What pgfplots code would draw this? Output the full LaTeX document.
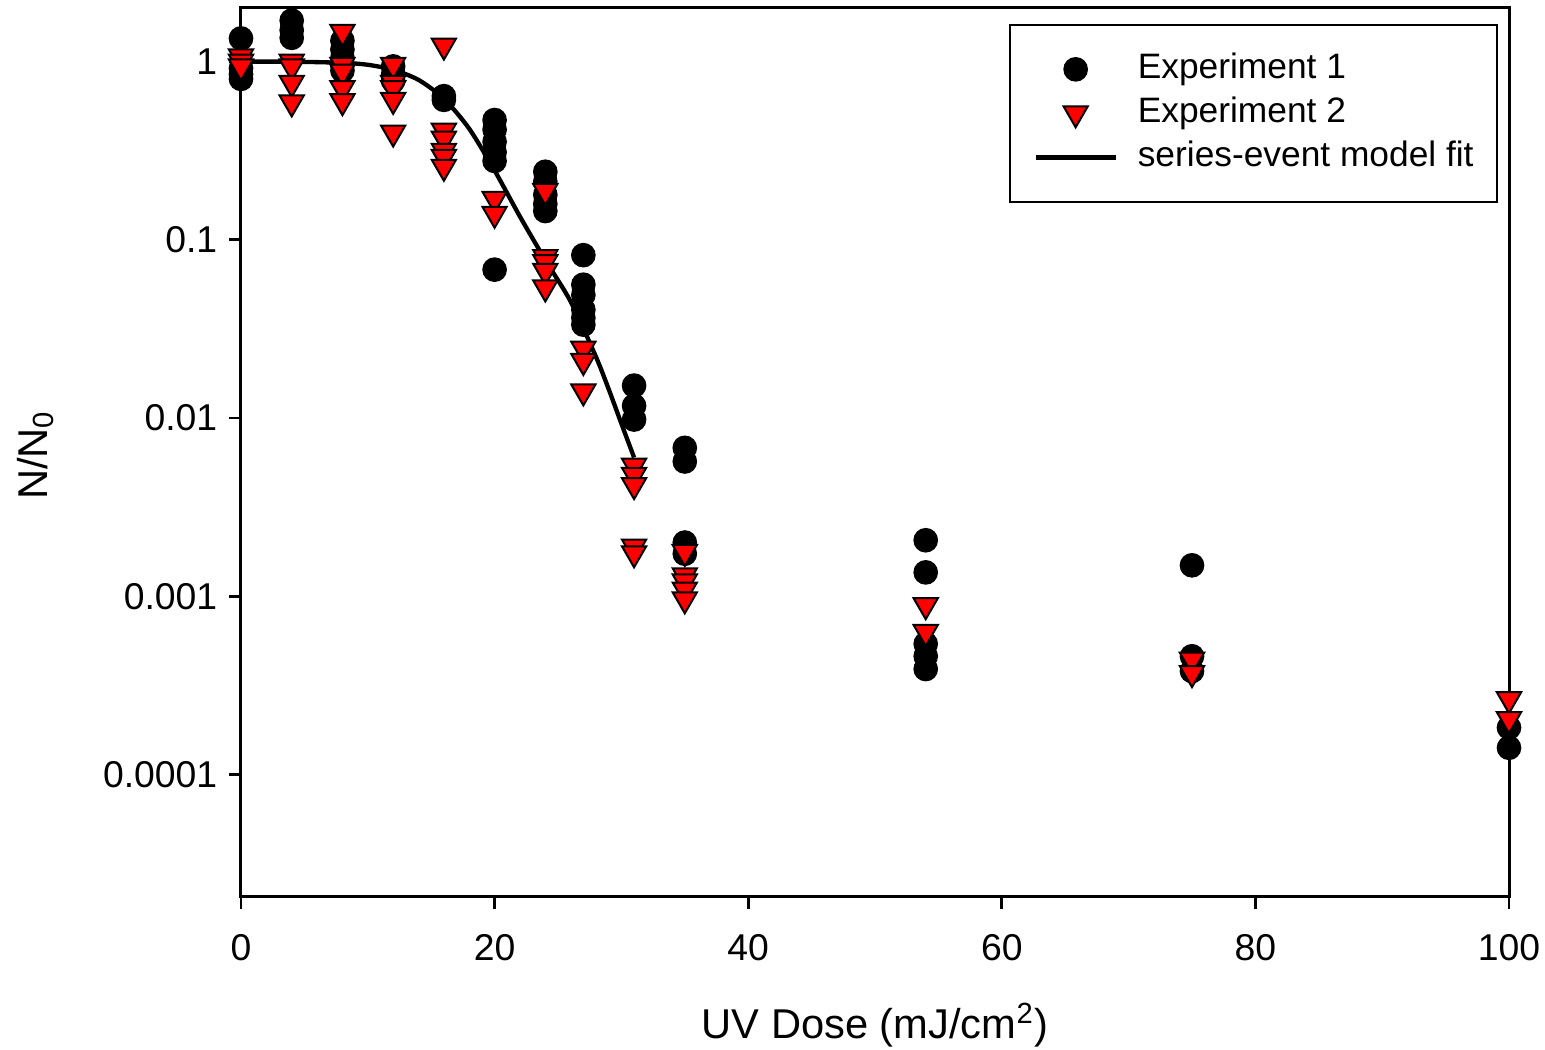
\documentclass[border=0pt]{standalone}
\usepackage{fontspec}
\setmainfont{Liberation Sans}
\usepackage{pgfplots}
\pgfplotsset{compat=1.18}
\usetikzlibrary{calc}
\pgfplotsset{
  markleg/.style={legend image code/.code={\draw[mark repeat=2,mark phase=2,##1] plot coordinates {(0pt,0pt) (12pt,0pt) (24pt,0pt)};}},
  lineleg/.style={legend image code/.code={\draw[##1] (0pt,0pt) -- (24pt,0pt);}},
}
\begin{document}
\begin{tikzpicture}[x=1pt,y=1pt]
\begin{axis}[
  name=ax,
  scale only axis,
  width=380.4pt, height=266.7pt,
  xmin=0, xmax=100,
  ymode=log, ymin=2.05e-5, ymax=2.0,
  xtick={0,20,40,60,80,100},
  ytick={1,0.1,0.01,0.001,0.0001},
  yticklabels={1,0.1,0.01,0.001,0.0001},
  minor ytick={},
  yminorticks=false,
  tick pos=left,
  tick align=outside,
  major tick length=3.6pt,
  tick style={black, line width=0.8pt},
  axis line style={line width=0.9pt},
  /pgf/number format/assume math mode=true,
  ticklabel style={font=\fontsize{11.2}{13}\selectfont},
  xticklabel style={yshift=-4.2pt},
  yticklabel style={xshift=0pt},
  xlabel={UV Dose (mJ/cm\textsuperscript{2})},
  ylabel={N/N\textsubscript{0}},
  label style={font=\fontsize{12.5}{14}\selectfont},
  xlabel style={at={(axis description cs:0.5,-0.144)}, anchor=center},
  ylabel style={at={(axis description cs:-0.162,0.497)}, anchor=center},
  clip=false,
  legend cell align=left,
  legend style={at={(rel axis cs:0.9913,0.982)}, anchor=north east,
    draw=black, line width=0.6pt,
    inner xsep=7pt, inner ysep=8.5pt,
    font=\fontsize{10.6}{12}\selectfont,
    row sep=3.6pt,
    nodes={inner sep=0pt, text height=7.6pt, text depth=2pt},
    /tikz/every odd column/.append style={column sep=6pt}},
]
\addplot[only marks, mark=*, mark size=3.5pt, mark options={fill=black, draw=black, line width=0.4pt}, markleg]
coordinates {
(0,1.35) (0,0.92) (0,0.85) (0,0.80)
(4,1.70) (4,1.50) (4,1.36)
(8,1.31) (8,1.17) (8,1.05) (8,0.95) (8,0.89)
(12,0.94) (12,0.85) (12,0.78)
(16,0.64) (16,0.61)
(20,0.47) (20,0.415) (20,0.355) (20,0.31) (20,0.277) (20,0.068)
(24,0.241) (24,0.212) (24,0.179) (24,0.159) (24,0.145)
(27,0.082) (27,0.056) (27,0.049) (27,0.0405) (27,0.0365) (27,0.0334)
(31,0.0152) (31,0.0117) (31,0.0098)
(35,0.0068) (35,0.0057) (35,0.0020) (35,0.00173)
(54,0.00206) (54,0.00136) (54,0.00054) (54,0.00046) (54,0.00039)
(75,0.00149) (75,0.00046) (75,0.00038)
(100,0.000183) (100,0.000141)
};
\addlegendentry{Experiment 1}
\addplot[only marks, mark=triangle*, mark size=4.2pt, mark options={rotate=180, fill=red, draw=black, line width=0.6pt}, markleg]
coordinates {
(0,1.07) (0,1.0) (0,0.94)
(4,1.0) (4,0.94) (4,0.76) (4,0.59)
(8,1.47) (8,0.96) (8,0.88) (8,0.71) (8,0.60)
(12,0.96) (12,0.76) (12,0.71) (12,0.61) (12,0.40)
(16,1.23) (16,0.41) (16,0.37) (16,0.316) (16,0.292) (16,0.257)
(20,0.17) (20,0.14)
(24,0.188) (24,0.080) (24,0.075) (24,0.067) (24,0.054)
(27,0.0245) (27,0.0209) (27,0.0141)
(31,0.0054) (31,0.0048) (31,0.0042) (31,0.0019) (31,0.00174)
(35,0.00177) (35,0.00131) (35,0.00121) (35,0.00109) (35,0.00096)
(54,0.00089) (54,0.00063)
(75,0.00044) (75,0.00037)
(100,0.000264) (100,0.000204)
};
\addlegendentry{Experiment 2}
\addplot[black, line width=1.3pt, smooth, tension=0.45, mark=none, lineleg]
coordinates {
(0,1.0) (4,0.999) (8,0.985) (10,0.96) (12,0.9) (14,0.79) (16,0.62) (18,0.42)
(20,0.245) (22,0.135) (24,0.077) (26,0.045) (28,0.022) (29,0.0145) (30,0.0093) (31,0.006)
};
\addlegendentry{series-event model fit}
\end{axis}
\pgfresetboundingbox
\path ($(ax.south west)+(-72.3pt,-45.9pt)$) rectangle ($(ax.north east)+(10.8pt,2.4pt)$);
\end{tikzpicture}
\end{document}
